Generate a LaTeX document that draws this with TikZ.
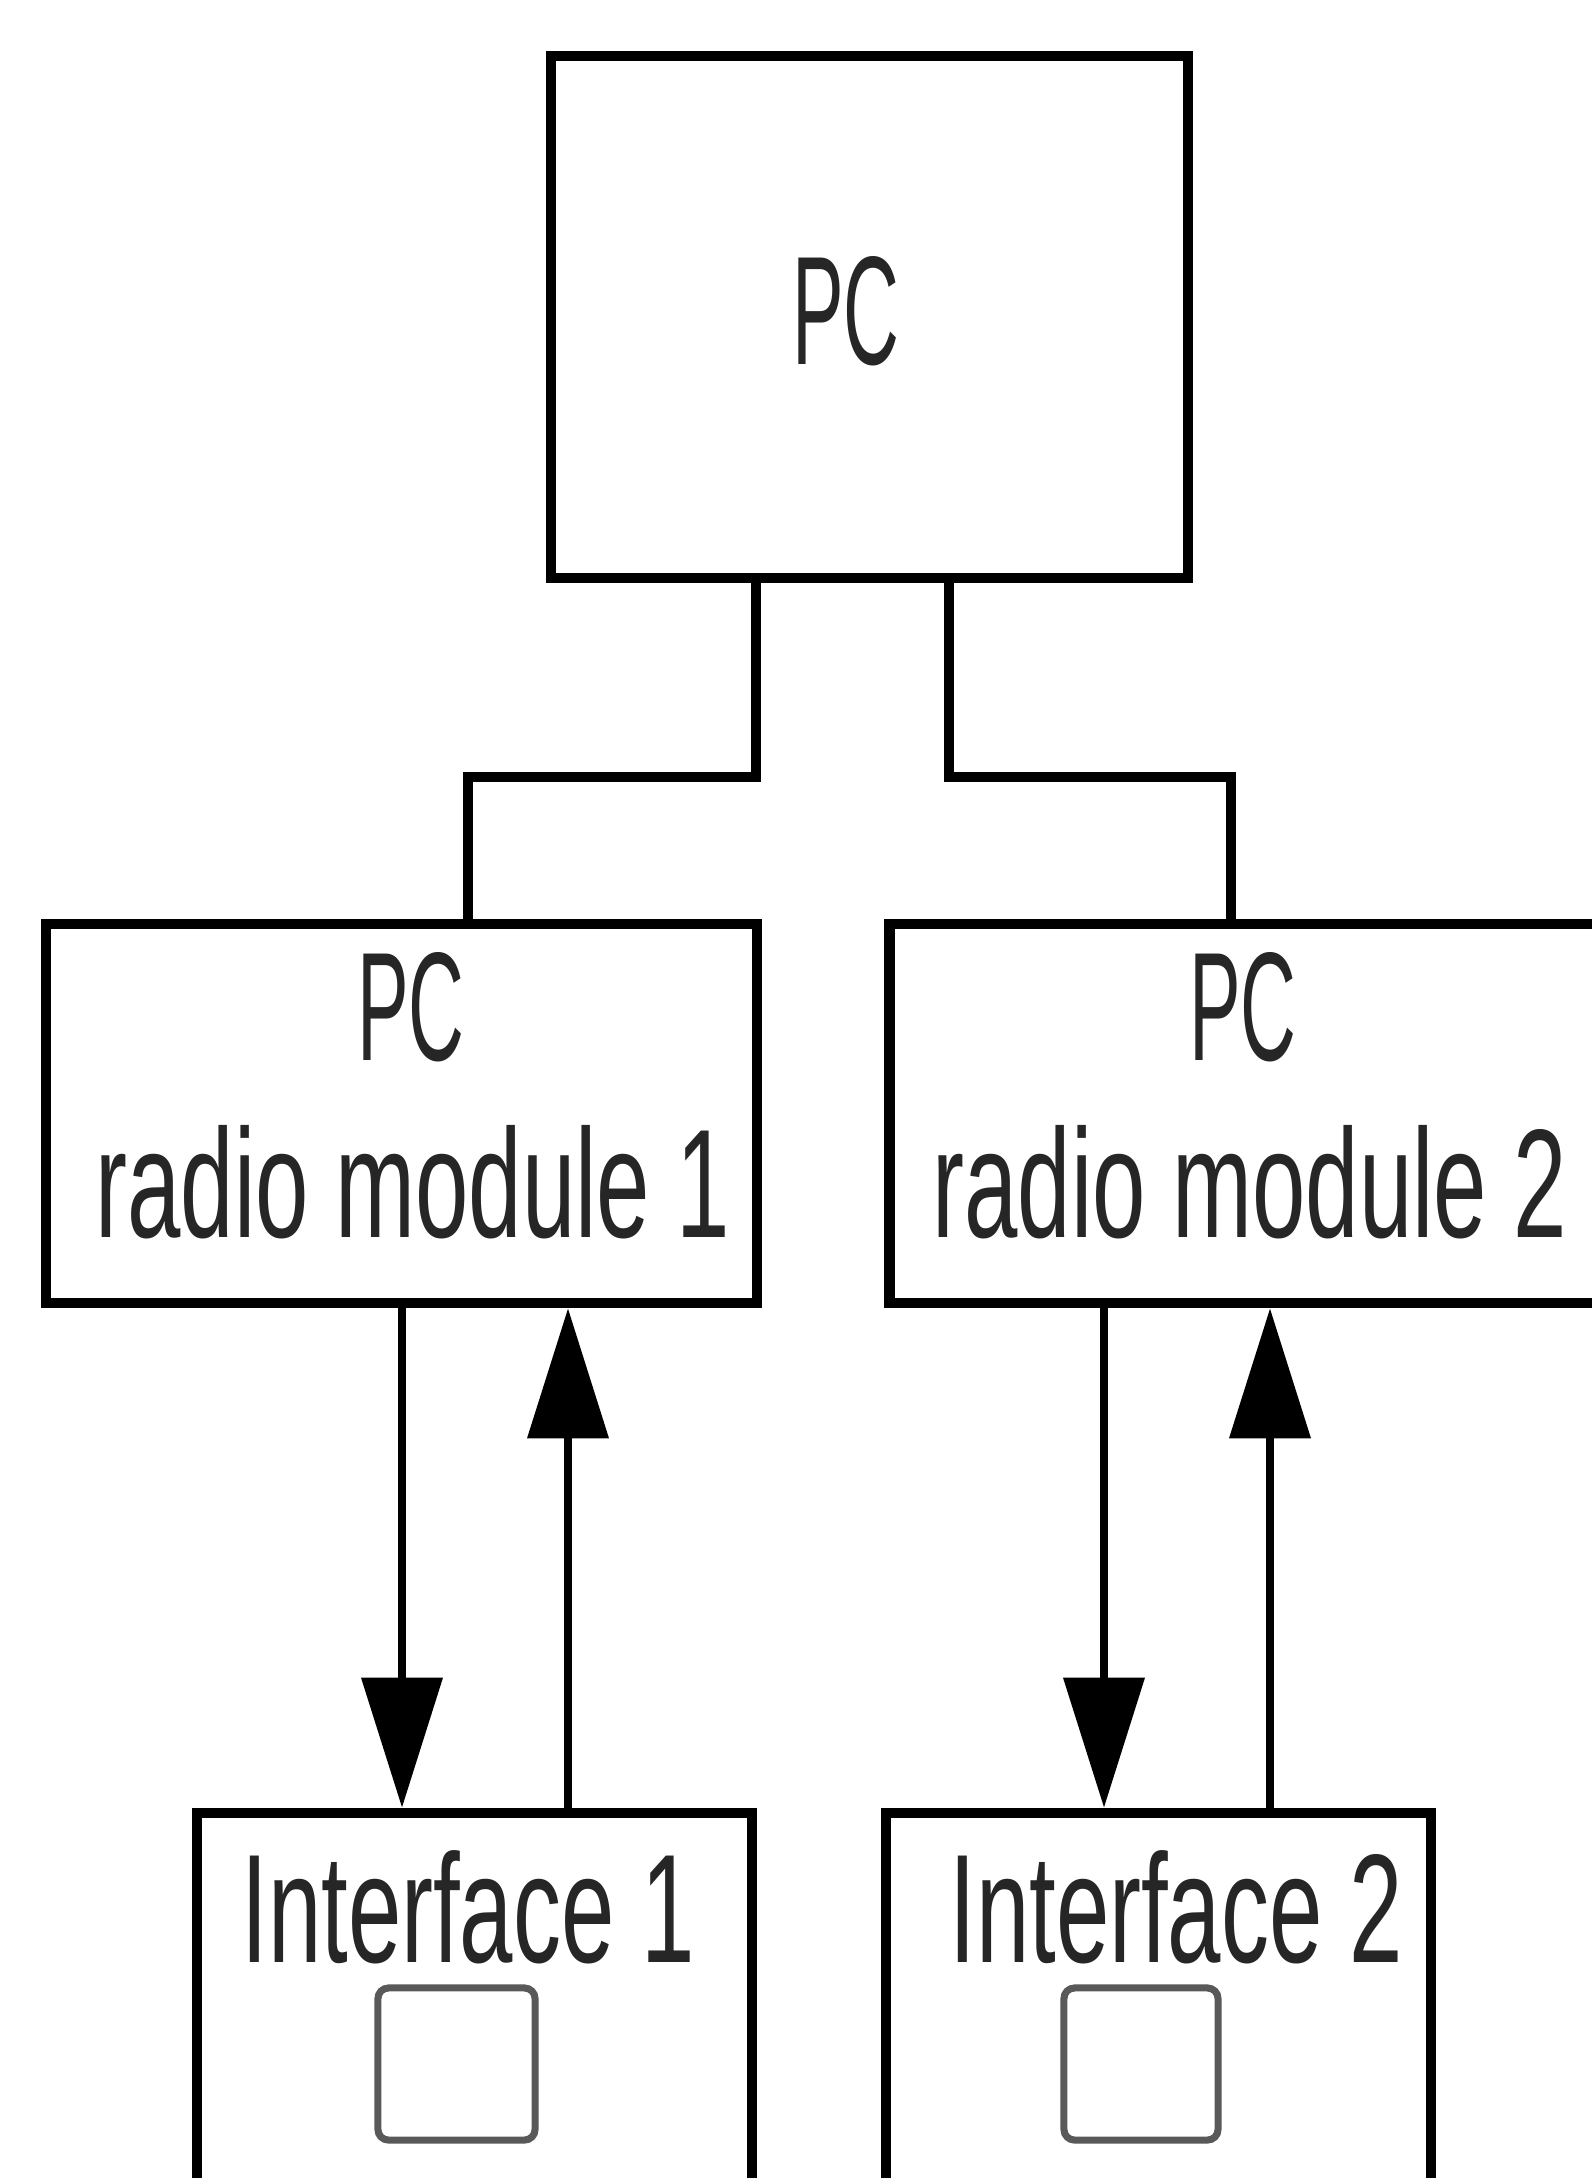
\documentclass[tikz,border=0pt]{standalone}
\usepackage{fontspec}
\setmainfont{Liberation Sans}
\newfontfamily\condfont[FakeStretch=0.62]{Liberation Sans}
\newfontfamily\pcfont[FakeStretch=0.5]{Liberation Sans}
\usetikzlibrary{arrows.meta}
\tikzset{
  boxnode/.style={draw=black, line width=3pt, rectangle, inner sep=0pt, fill=white},
  smallsq/.style={draw=black!65, line width=2pt, rectangle, rounded corners=3pt, inner sep=0pt},
  lbl/.style={anchor=base, inner sep=0pt, text=black!85, font=\condfont\fontsize{44pt}{48pt}\selectfont},
  pclbl/.style={anchor=base, inner sep=0pt, text=black!85, font=\pcfont\fontsize{44pt}{48pt}\selectfont},
  link/.style={draw=black, line width=2.7pt},
  flow/.style={draw=black, line width=2.1pt, -{Triangle[length=1.3cm, width=0.8cm]}}
}
\begin{document}
\begin{tikzpicture}[x=0.01cm, y=-0.01cm]
\useasboundingbox (0,0) rectangle (1592,2178);
\clip (0,0) rectangle (1592,2178);
\fill[white] (0,0) rectangle (1592,2178);

% boxes
\node[boxnode, minimum width=6.37cm, minimum height=5.22cm] (pc) at (869.5,317) {};
\node[boxnode, minimum width=7.11cm, minimum height=3.79cm] (r1) at (401.5,1113.5) {};
\node[boxnode, minimum width=8.10cm, minimum height=3.79cm] (r2) at (1295,1113.5) {};
\node[boxnode, minimum width=5.55cm, minimum height=4.87cm] (i1) at (474.5,2056.5) {};
\node[boxnode, minimum width=5.45cm, minimum height=4.87cm] (i2) at (1158.5,2056.5) {};
\node[smallsq, minimum width=1.57cm, minimum height=1.52cm] (s1) at (456.5,2064) {};
\node[smallsq, minimum width=1.54cm, minimum height=1.52cm] (s2) at (1141,2064) {};

% labels
\node[pclbl] (tpc) at (846,364) {PC};
\node[pclbl] (tr1a) at (411,1060) {PC};
\node[lbl] (tr1b) at (413,1237) {radio module 1};
\node[pclbl] (tr2a) at (1243,1060) {PC};
\node[lbl] (tr2b) at (1250,1237) {radio module 2};
\node[lbl] (ti1) at (468,1962) {Interface 1};
\node[lbl] (ti2) at (1176,1962) {Interface 2};

% connectors from PC
\coordinate (ja) at (756,777);
\coordinate (jb) at (949,777);
\coordinate (ka) at (468,777);
\coordinate (kb) at (1231,777);
\draw[link] (pc.south -| ja) -- (ja) -- (ka) -- (r1.north -| ka);
\draw[link] (pc.south -| jb) -- (jb) -- (kb) -- (r2.north -| kb);

% arrows
\coordinate (d1) at (402,0);
\coordinate (u1) at (568,0);
\coordinate (d2) at (1104,0);
\coordinate (u2) at (1270,0);
\draw[flow] (r1.south -| d1) -- (i1.north -| d1);
\draw[flow] (i1.north -| u1) -- (r1.south -| u1);
\draw[flow] (r2.south -| d2) -- (i2.north -| d2);
\draw[flow] (i2.north -| u2) -- (r2.south -| u2);
\end{tikzpicture}
\end{document}
